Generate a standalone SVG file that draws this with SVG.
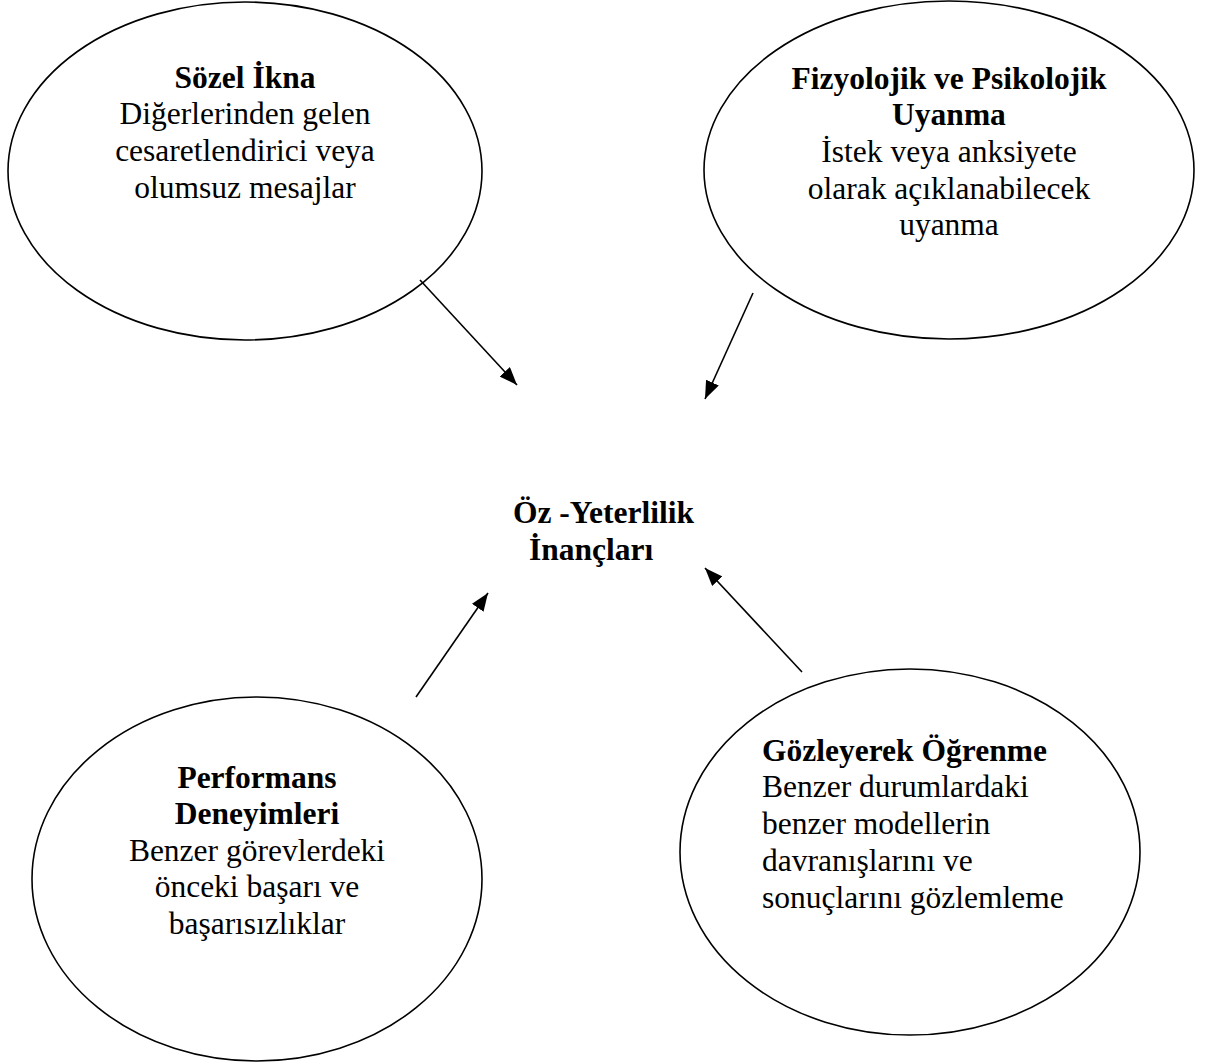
<svg xmlns="http://www.w3.org/2000/svg" width="1219" height="1064" viewBox="0 0 1219 1064">
<style>
.node ellipse{fill:#fff;stroke:#000;stroke-width:1.6}
text{font-family:"Liberation Serif","Times New Roman",serif;font-size:31.5px;fill:#000}
.b{font-weight:bold}
.c{text-anchor:middle}
.conn line{stroke:#000;stroke-width:1.6}
</style>
<defs>
<marker id="ah" viewBox="0 0 18 14" refX="18" refY="7" markerWidth="18" markerHeight="14" markerUnits="userSpaceOnUse" orient="auto">
<path d="M0,0 L18,7 L0,14 Z" fill="#000"/>
</marker>
</defs>
<rect width="1219" height="1064" fill="#fff"/>
<g id="n1" class="node">
<ellipse cx="245" cy="171" rx="237" ry="169"/>
<text class="c b" x="245" y="88">Sözel İkna</text>
<text class="c" x="245" y="124">Diğerlerinden gelen</text>
<text class="c" x="245" y="161">cesaretlendirici veya</text>
<text class="c" x="245" y="198">olumsuz mesajlar</text>
</g>
<g id="n2" class="node">
<ellipse cx="949" cy="170" rx="245" ry="169"/>
<text class="c b" x="949" y="89">Fizyolojik ve Psikolojik</text>
<text class="c b" x="949" y="125">Uyanma</text>
<text class="c" x="949" y="162">İstek veya anksiyete</text>
<text class="c" x="949" y="199">olarak açıklanabilecek</text>
<text class="c" x="949" y="235">uyanma</text>
</g>
<g id="n3" class="node">
<ellipse cx="257" cy="879" rx="225" ry="182"/>
<text class="c b" x="257" y="788">Performans</text>
<text class="c b" x="257" y="824">Deneyimleri</text>
<text class="c" x="257" y="861">Benzer görevlerdeki</text>
<text class="c" x="257" y="897">önceki başarı ve</text>
<text class="c" x="257" y="934">başarısızlıklar</text>
</g>
<g id="n4" class="node">
<ellipse cx="910" cy="852" rx="230" ry="183"/>
<text class="b" x="762" y="761">Gözleyerek Öğrenme</text>
<text x="762" y="797">Benzer durumlardaki</text>
<text x="762" y="834">benzer modellerin</text>
<text x="762" y="871">davranışlarını ve</text>
<text x="762" y="908">sonuçlarını gözlemleme</text>
</g>
<g id="center">
<text class="b" x="513" y="523">Öz -Yeterlilik</text>
<text class="b" x="529" y="560">İnançları</text>
</g>
<g id="connectors" class="conn">
<line x1="420" y1="280" x2="517" y2="385" marker-end="url(#ah)"/>
<line x1="753" y1="293" x2="705" y2="399" marker-end="url(#ah)"/>
<line x1="416" y1="697" x2="488" y2="593" marker-end="url(#ah)"/>
<line x1="802" y1="672" x2="705" y2="568" marker-end="url(#ah)"/>
</g>
</svg>
